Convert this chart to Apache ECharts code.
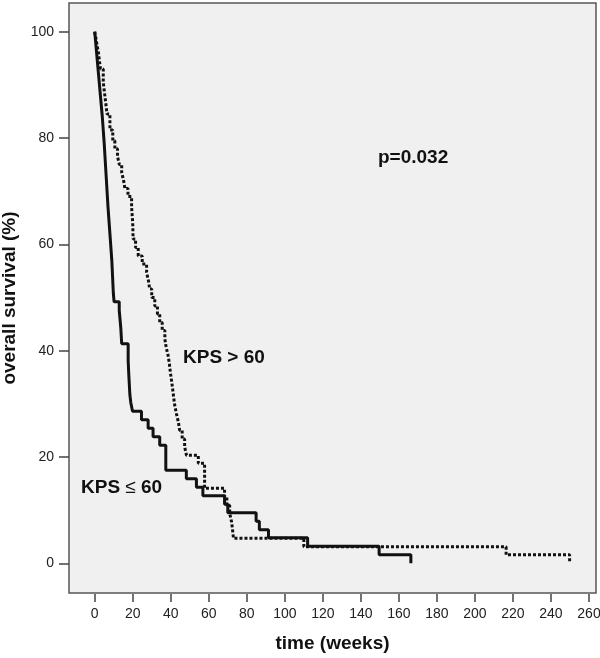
<!DOCTYPE html>
<html>
<head>
<meta charset="utf-8">
<style>
html,body{margin:0;padding:0;background:#fff;}
#c{width:600px;height:658px;}
</style>
<script src="https://cdn.jsdelivr.net/npm/echarts@6/dist/echarts.min.js"></script>
</head>
<body>
<div id="c"></div>
<script>
// KPS <= 60 (solid): event time (weeks) and survival (%) after event
const lowTime = [0, 1, 2, 3, 4, 5, 6, 7, 8, 9, 9.8, 10.2, 12.9, 13.3, 13.7, 14.2, 17.6, 18.0, 18.5, 19.0, 19.9, 24.6, 28.1, 30.7, 34.2, 37.4, 48.2, 53.5, 56.9, 68.3, 70.0, 84.9, 86.6, 91.4, 112.0, 149.6, 166.3];
const lowSurv = [100, 96, 92, 88, 84, 79, 73, 67, 62, 57, 50.8, 49.2, 47.6, 46.0, 44.4, 41.3, 38.1, 35.0, 31.7, 30.2, 28.6, 27.0, 25.4, 23.8, 22.2, 17.5, 15.9, 14.3, 12.7, 11.1, 9.5, 7.9, 6.3, 4.8, 3.2, 1.6, 0];
// KPS > 60 (dotted)
const highTime = [0, 1, 2, 3, 4.5, 5.5, 6.5, 8, 9.5, 10.6, 12, 13, 14.2, 15.2, 15.9, 17.5, 19.4, 20.0, 20.2, 21.5, 22.9, 25, 27.3, 28.3, 28.9, 30, 31.6, 33, 34.2, 35.5, 36.9, 37.6, 38.6, 39.3, 39.8, 40.4, 41, 41.5, 42.1, 43, 44, 44.7, 46, 47.3, 48.3, 54.5, 57.8, 68.3, 69.5, 71, 72, 72.5, 73, 110, 216.4, 249.8];
const highSurv = [100, 98, 96, 93, 90.5, 87.5, 84.5, 81.5, 79.5, 78, 76.5, 75, 73.5, 72, 70.5, 69, 67, 64, 61, 59.4, 57.8, 56.3, 54.7, 53.1, 51.6, 50, 48.4, 46.9, 45.3, 43.8, 42.2, 40.6, 39.1, 37.5, 35.9, 34.4, 32.8, 31.3, 29.7, 28.1, 26.6, 25, 23.4, 21.9, 20.3, 18.8, 14.1, 12.5, 10.9, 9.4, 7.8, 6.3, 4.7, 3.1, 1.6, 0];
const xTicks = [0, 20, 40, 60, 80, 100, 120, 140, 160, 180, 200, 220, 240, 260];
const yTicks = [0, 20, 40, 60, 80, 100];

const zip = (a, b) => a.map((v, i) => [v, b[i]]);
const FONT = '"Liberation Sans", Arial, sans-serif';

const chart = echarts.init(document.getElementById('c'), null, {renderer: 'canvas'});
chart.setOption({
  animation: false,
  backgroundColor: '#ffffff',
  grid: {
    left: 69, right: 4, top: 3, bottom: 65,
    show: true, backgroundColor: '#f0f0f0', borderColor: '#555', borderWidth: 1.5,
    containLabel: false, outerBoundsMode: 'none'
  },
  xAxis: {
    type: 'value', min: -13.52, max: 263.68, offset: 1,
    axisLine: {show: false, onZero: false},
    axisTick: {show: true, length: 8, customValues: xTicks, lineStyle: {color: '#444', width: 1.5}},
    axisLabel: {customValues: xTicks, fontSize: 14, color: '#222', margin: 13, fontFamily: FONT},
    splitLine: {show: false},
    name: 'time (weeks)', nameLocation: 'middle', nameGap: 40,
    nameTextStyle: {fontSize: 19, fontWeight: 'bold', color: '#111', fontFamily: FONT}
  },
  yAxis: {
    type: 'value', min: -5.59, max: 105.4,
    axisLine: {show: false, onZero: false},
    axisTick: {show: true, length: 10, customValues: yTicks, lineStyle: {color: '#444', width: 1.5}},
    axisLabel: {customValues: yTicks, fontSize: 14, color: '#222', margin: 15, fontFamily: FONT},
    splitLine: {show: false},
    name: 'overall survival (%)', nameLocation: 'middle', nameGap: 47,
    nameTextStyle: {fontSize: 19, fontWeight: 'bold', color: '#111', fontFamily: FONT}
  },
  series: [
    {
      name: 'KPS ≤ 60', type: 'line', step: 'end', symbol: 'none',
      data: zip(lowTime, lowSurv),
      lineStyle: {color: '#111', width: 3},
      z: 3
    },
    {
      name: 'KPS > 60', type: 'line', step: 'end', symbol: 'none',
      data: zip(highTime, highSurv),
      lineStyle: {color: '#111', width: 3, type: [3, 2]},
      z: 2
    }
  ],
  graphic: [
    {type: 'text', x: 378, y: 158, style: {text: 'p=0.032', font: 'bold 19px ' + FONT, fill: '#111', verticalAlign: 'middle'}},
    {type: 'text', x: 183, y: 358, style: {text: 'KPS > 60', font: 'bold 19px ' + FONT, fill: '#111', verticalAlign: 'middle'}},
    {type: 'text', x: 81, y: 488, style: {
      text: '{b|KPS }{n|≤}{b| 60}', verticalAlign: 'middle',
      rich: {
        b: {font: 'bold 19px ' + FONT, fill: '#111'},
        n: {font: 'normal 19px ' + FONT, fill: '#111'}
      }
    }}
  ]
});
</script>
</body>
</html>
